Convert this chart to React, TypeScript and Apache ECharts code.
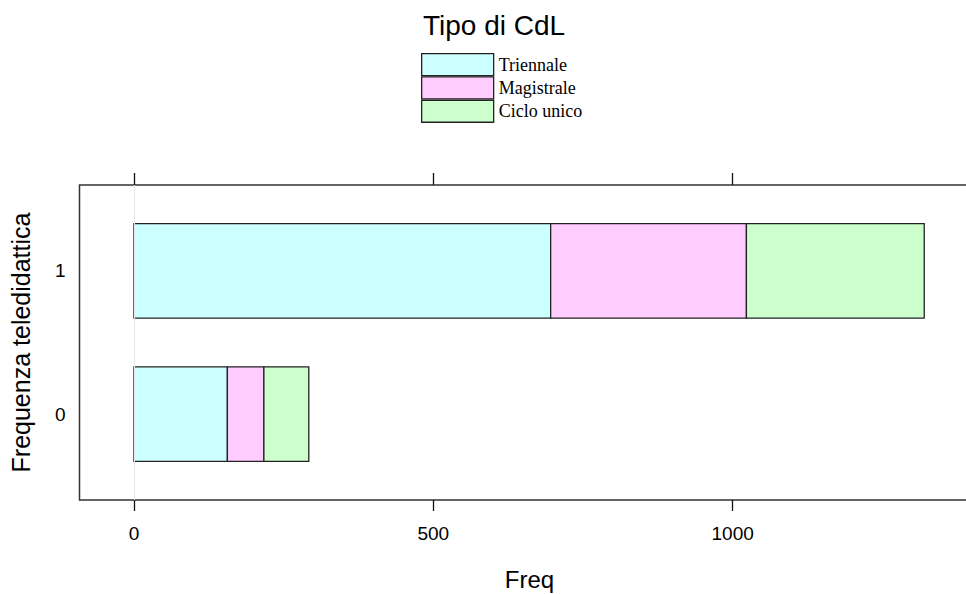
import { useEffect, useRef } from "react";
import * as echarts from "echarts";

const rowLabels = ["0", "1"];
const rowPositions = [0, 1];
const seriesNames = ["Triennale", "Magistrale", "Ciclo unico"];
const triennale = [156, 696];
const magistrale = [61, 327];
const cicloUnico = [75, 297];
const freqTicks = [0, 500, 1000];
const seriesColors = ["#CCFFFF", "#FFCCFF", "#CCFFCC"];

const SANS = "'Liberation Sans', Arial, sans-serif";
const SERIF = "'Liberation Serif', 'Times New Roman', serif";

export default function App() {
  const ref = useRef<HTMLDivElement>(null);

  useEffect(() => {
    if (!ref.current) return;
    const chart = echarts.init(ref.current, undefined, { renderer: "svg" });
    const values = [triennale, magistrale, cicloUnico];

    // stacked extents built from the value arrays
    const cumulative = rowPositions.map(() => 0);
    const series: any[] = seriesNames.map((name, si) => {
      const data = rowPositions.map((p, i) => {
        const start = cumulative[i];
        const end = start + values[si][i];
        cumulative[i] = end;
        return [start, end, p, values[si][i]];
      });
      return {
        name,
        type: "custom",
        xAxisIndex: 0,
        yAxisIndex: 0,
        encode: { x: [0, 1], y: 2 },
        data,
        itemStyle: {
          color: seriesColors[si],
          borderColor: "#222",
          borderWidth: 1.3,
        },
        z: 3,
        renderItem: (params: any, api: any) => {
          const p0 = api.coord([api.value(0), api.value(2)]);
          const p1 = api.coord([api.value(1), api.value(2)]);
          const h = api.size([0, 0.66])[1];
          return {
            type: "rect",
            shape: { x: p0[0], y: p0[1] - h / 2, width: p1[0] - p0[0], height: h },
            style: {
              fill: seriesColors[si],
              stroke: "#222",
              lineWidth: 1.3,
            },
          };
        },
      };
    });

    series.push({
      name: "origin",
      type: "line",
      data: [],
      silent: true,
      markLine: {
        silent: true,
        symbol: "none",
        label: { show: false },
        lineStyle: { color: "#e6e6e6", width: 1, type: "solid" },
        data: [{ xAxis: 0 }],
      },
      z: 1,
    });

    chart.setOption({
      animation: false,
      backgroundColor: "#ffffff",
      title: {
        text: "Tipo di CdL",
        left: 423,
        top: 11,
        padding: 0,
        textStyle: {
          fontFamily: SANS,
          fontSize: 28,
          fontWeight: "normal",
          color: "#000",
        },
      },
      legend: {
        orient: "vertical",
        left: 421,
        top: 53,
        padding: 0,
        itemGap: 0,
        itemWidth: 72,
        itemHeight: 22,
        icon: "rect",
        data: seriesNames,
        itemStyle: { borderColor: "#222", borderWidth: 1.3 },
        textStyle: { fontFamily: SERIF, fontSize: 18, color: "#000" },
      },
      grid: {
        left: 79.5,
        top: 185,
        height: 315,
        width: 899.8,
        outerBoundsMode: "none",
        show: true,
        borderColor: "#333",
        borderWidth: 1.5,
        backgroundColor: "transparent",
        containLabel: false,
      },
      xAxis: [
        {
          type: "value",
          position: "bottom",
          min: -91,
          max: 1412,
          name: "Freq",
          nameLocation: "middle",
          nameGap: 67,
          nameTextStyle: { fontFamily: SANS, fontSize: 24, color: "#000" },
          axisLine: { show: false, onZero: false },
          splitLine: { show: false },
          axisTick: {
            show: true,
            inside: false,
            length: 11,
            customValues: freqTicks,
            lineStyle: { color: "#111", width: 1.3 },
          },
          axisLabel: {
            customValues: freqTicks,
            margin: 24,
            fontFamily: SANS,
            fontSize: 19,
            color: "#000",
            formatter: (v: number) => String(v),
          },
        },
        {
          type: "value",
          position: "top",
          min: -91,
          max: 1412,
          axisLine: { show: false, onZero: false },
          splitLine: { show: false },
          axisTick: {
            show: true,
            inside: false,
            length: 12,
            customValues: freqTicks,
            lineStyle: { color: "#111", width: 1.3 },
          },
          axisLabel: { show: false },
        },
      ],
      yAxis: {
        type: "value",
        min: -0.6,
        max: 1.6,
        name: "Frequenza teledidattica",
        nameLocation: "middle",
        nameRotate: 90,
        nameGap: 46,
        nameTextStyle: { fontFamily: SANS, fontSize: 25, color: "#000" },
        axisLine: { show: false, onZero: false },
        axisTick: { show: false },
        splitLine: { show: false },
        axisLabel: {
          customValues: rowPositions,
          margin: 14,
          fontFamily: SANS,
          fontSize: 19,
          color: "#000",
          formatter: (v: number) => {
            const idx = rowPositions.indexOf(Math.round(v));
            return idx >= 0 ? rowLabels[idx] : "";
          },
        },
      },
      series,
    });

    return () => chart.dispose();
  }, []);

  return (
    <div
      ref={ref}
      style={{ position: "fixed", left: 0, top: 0, width: 966, height: 594 }}
    />
  );
}
